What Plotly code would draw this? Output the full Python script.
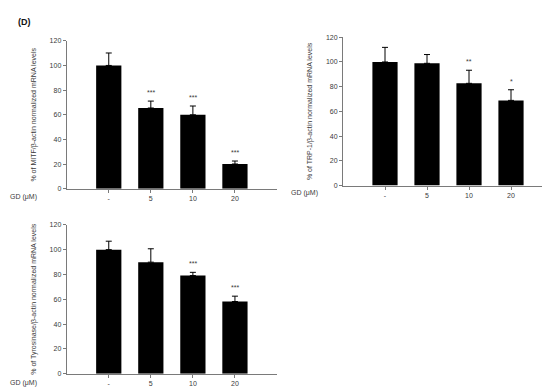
import plotly.graph_objects as go

categories = ["-", "5", "10", "20"]

mitf_values = [100, 65.5, 60, 20.1]
mitf_errors = [10.1, 5.6, 7.1, 2.4]
mitf_stars = ["", "***", "***", "***"]

trp1_values = [100, 98.9, 82.7, 68.9]
trp1_errors = [11.8, 7.1, 10.6, 8.6]
trp1_stars = ["", "", "**", "*"]

tyr_values = [100, 89.9, 79.1, 58.2]
tyr_errors = [6.8, 10.8, 2.6, 4.3]
tyr_stars = ["", "", "***", "***"]

y_ticks = [0, 20, 40, 60, 80, 100, 120]

FONT = "Liberation Sans, Arial, sans-serif"
TXT = "#3a3a3a"
AX = "#7a7a7a"

positions = list(range(len(categories)))

panels = [
    dict(vals=mitf_values, errs=mitf_errors, stars=mitf_stars,
         title="% of MITF/β-actin normalized mRNA levels",
         xdom=[58.7 / 550, 269 / 550], ydom=[1 - 180 / 391, 1 - 29.3 / 391],
         gd=(0, 188)),
    dict(vals=trp1_values, errs=trp1_errors, stars=trp1_stars,
         title="% of TRP-1/β-actin normalized mRNA levels",
         xdom=[335 / 550, 545 / 550], ydom=[1 - 176.7 / 391, 1 - 25.7 / 391],
         gd=(281, 184)),
    dict(vals=tyr_values, errs=tyr_errors, stars=tyr_stars,
         title="% of Tyrosinase/β-actin normalized mRNA levels",
         xdom=[58.7 / 550, 269 / 550], ydom=[1 - 368.3 / 391, 1 - 216.7 / 391],
         gd=(0, 377.7)),
]

fig = go.Figure()
layout = {}
annotations = []

for i, p in enumerate(panels, start=1):
    sfx = "" if i == 1 else str(i)
    fig.add_trace(go.Bar(
        x=positions, y=p["vals"],
        xaxis="x" + sfx, yaxis="y" + sfx,
        marker=dict(color="black", line=dict(width=0)),
        width=0.6,
        error_y=dict(type="data", array=p["errs"], arrayminus=[0] * 4,
                     symmetric=False, color="black", thickness=1, width=3),
        showlegend=False,
    ))
    layout["xaxis" + sfx] = dict(
        domain=p["xdom"], anchor="y" + sfx,
        tickmode="array", tickvals=positions, ticktext=categories,
        range=[-1, 4], showline=True, linecolor=AX, linewidth=1,
        ticks="outside", ticklen=3, tickcolor=AX, tickwidth=1,
        showgrid=False, zeroline=False,
        tickfont=dict(family=FONT, size=7, color=TXT),
    )
    layout["yaxis" + sfx] = dict(
        domain=p["ydom"], anchor="x" + sfx, range=[0, 120],
        tickvals=y_ticks, showline=True, linecolor=AX, linewidth=1,
        ticks="outside", ticklen=3, tickcolor=AX, tickwidth=1,
        showgrid=False, zeroline=False,
        tickfont=dict(family=FONT, size=7, color=TXT),
        title=dict(text=p["title"], standoff=12,
                   font=dict(family=FONT, size=7, color=TXT)),
    )
    for xp, v, e, s in zip(positions, p["vals"], p["errs"], p["stars"]):
        if s:
            annotations.append(dict(
                x=xp, y=v + e, xref="x" + sfx, yref="y" + sfx,
                text=s, showarrow=False, yanchor="bottom", yshift=3,
                font=dict(family=FONT, size=7, color=TXT),
            ))
    gx, gy = p["gd"]
    annotations.append(dict(
        x=gx / 550, y=1 - gy / 391, xref="paper", yref="paper",
        text="GD (μM)", showarrow=False, xanchor="left", yanchor="middle",
        font=dict(family=FONT, size=7, color=TXT),
    ))

annotations.append(dict(
    x=8 / 550, y=1 - 10 / 391, xref="paper", yref="paper",
    text="<b>(D)</b>", showarrow=False, xanchor="left", yanchor="middle",
    font=dict(family=FONT, size=9, color="#111"),
))

fig.update_layout(
    width=550, height=391,
    margin=dict(l=0, r=0, t=0, b=0),
    paper_bgcolor="white", plot_bgcolor="white",
    annotations=annotations,
    **layout,
)

fig.write_html("out.html")
